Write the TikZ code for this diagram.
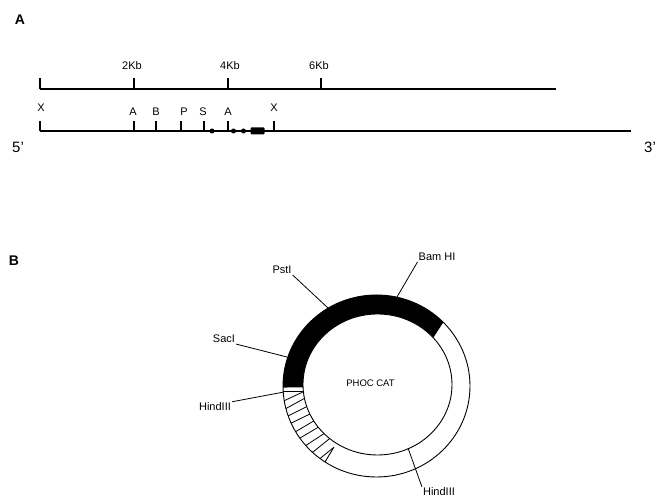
\documentclass[tikz,border=0pt]{standalone}
\usepackage{fontspec}
\setmainfont{Liberation Sans}
\tikzset{
  lbl/.style={font=\fontsize{11}{12}\selectfont,inner sep=1pt},
  endlbl/.style={font=\fontsize{15}{16}\selectfont,inner sep=0pt},
  panel/.style={font=\fontsize{14}{15}\selectfont\bfseries,inner sep=0pt},
  mapline/.style={line width=1.2pt},
  hatchline/.style={line width=.8pt},
  ringline/.style={line width=.9pt},
  leader/.style={line width=.8pt}
}
\begin{document}
\begin{tikzpicture}[x=1pt,y=1pt]
\useasboundingbox (0,0) rectangle (657,498);
% panel letters
\node[panel] (panelA) at (20,478) {A};
\node[panel] (panelB) at (14,237) {B};
% scale bar
\coordinate (scaleL) at (40,409);
\coordinate (scaleR) at (556,409);
\draw[mapline] (scaleL)--(scaleR);
\draw[mapline] (40,409)--(40,420);
\draw[mapline] (134,409)--(134,420);
\node[lbl] (kbTwo) at (132,432) {2Kb};
\draw[mapline] (228,409)--(228,420);
\node[lbl] (kbFour) at (230,432) {4Kb};
\draw[mapline] (321,409)--(321,420);
\node[lbl] (kbSix) at (319,432) {6Kb};
% restriction map
\coordinate (mapL) at (40,367);
\coordinate (mapR) at (631,367);
\draw[mapline] (mapL)--(mapR);
\draw[mapline] (40,367)--(40,377);
\node[lbl] (siteXa) at (41,390) {X};
\draw[mapline] (134,367)--(134,377);
\node[lbl] (siteAa) at (133,386) {A};
\draw[mapline] (156,367)--(156,377);
\node[lbl] (siteB) at (156,386) {B};
\draw[mapline] (181,367)--(181,377);
\node[lbl] (siteP) at (184,386) {P};
\draw[mapline] (204,367)--(204,377);
\node[lbl] (siteS) at (203,386) {S};
\draw[mapline] (228,367)--(228,377);
\node[lbl] (siteAb) at (228,386) {A};
\draw[mapline] (274,367)--(274,377);
\node[lbl] (siteXb) at (274,390) {X};
\fill (212,367) circle (2.5pt);
\fill (233.500,367) circle (2.5pt);
\fill (243.500,367) circle (2.5pt);
\fill[rounded corners=1pt] (250.500,363.500) rectangle (264.500,370.500);
\node[endlbl] (endFive) at (18,351) {5'};
\node[endlbl] (endThree) at (650,351) {3'};
% plasmid ring
\fill (402,112) -- (443.300,175.700) arc (44.400:181:93.500 and 91) -- cycle;
\begin{scope}
\clip (376.500,112) ellipse (93.500 and 91);
\draw[hatchline] (275,93)--(305,107);
\draw[hatchline] (277,84.500)--(306,100.500);
\draw[hatchline] (278,77)--(309,92.500);
\draw[hatchline] (281,70)--(311,84.500);
\draw[hatchline] (285,60)--(315,77.800);
\draw[hatchline] (290,54)--(320,71.800);
\draw[hatchline] (295,45.500)--(325,65);
\draw[hatchline] (303,38)--(331,60.500);
\draw[hatchline] (310,31.400)--(333,50);
\end{scope}
\fill[white] (377.500,113.500) ellipse (74.500 and 70.500);
\draw[ringline] (376.500,112) ellipse (93.500 and 91);
\draw[ringline] (377.500,113.500) ellipse (74.500 and 70.500);
\draw[ringline] (283,107)--(303,107);
\draw[ringline] (325,36)--(334,51);
\node[lbl,font=\fontsize{9.500}{10}\selectfont] (plasmidName) at (370.500,115) {PHOC CAT};
% leaders
\node[lbl] (labBam) at (437,241) {Bam\ HI};
\coordinate (ptBam) at (397,201);
\draw[leader] (labBam.south west)--(ptBam);
\node[lbl] (labPst) at (282,228) {PstI};
\coordinate (ptPst) at (328,190);
\draw[leader] (labPst.south east)--(ptPst);
\node[lbl] (labSac) at (224,159) {SacI};
\coordinate (ptSac) at (287,141);
\draw[leader] (labSac.south east)--(ptSac);
\node[lbl] (labHindA) at (215,91) {HindIII};
\coordinate (ptHindA) at (284,106);
\draw[leader] (labHindA.north east)--(ptHindA);
\node[lbl] (labHindB) at (439,6) {HindIII};
\coordinate (ptHindB) at (408,50);
\draw[leader] (labHindB.north west)--(ptHindB);
\end{tikzpicture}
\end{document}
